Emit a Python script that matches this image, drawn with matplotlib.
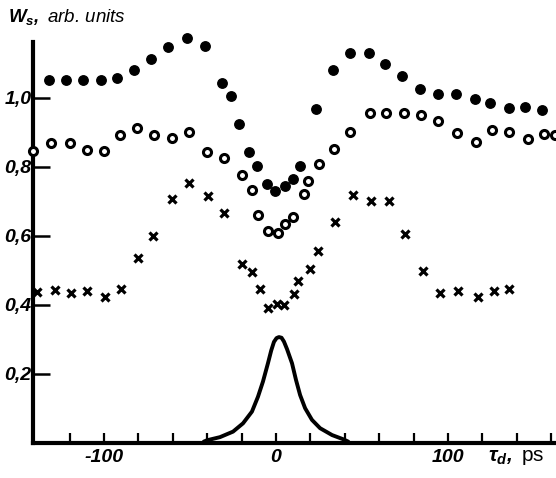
import matplotlib
matplotlib.use("Agg")
import matplotlib.pyplot as plt
import numpy as np

plt.rcParams['mathtext.fontset'] = 'custom'
plt.rcParams['mathtext.bf'] = 'Liberation Sans:bold:italic'
plt.rcParams['mathtext.rm'] = 'Liberation Sans'
plt.rcParams['mathtext.it'] = 'Liberation Sans:italic'

# filled circles
filled_x = [-132, -122, -112, -102, -92.4, -82.6, -72.7, -62.8, -51.7, -41.3, -31.4,
            -26.2, -21.5, -15.7, -11.0, -5.2, -0.6, 5.2, 9.9, 14.0, 23.3, 33.1, 43.0,
            54.1, 63.4, 73.3, 83.7, 94.2, 104.7, 115.7, 124.4, 135.5, 144.8, 154.7]
filled_y = [1.052, 1.052, 1.052, 1.052, 1.058, 1.081, 1.113, 1.148, 1.174, 1.151, 1.043,
            1.006, 0.925, 0.843, 0.803, 0.751, 0.730, 0.745, 0.765, 0.803, 0.968, 1.081, 1.130,
            1.130, 1.099, 1.064, 1.026, 1.012, 1.012, 0.997, 0.986, 0.971, 0.974, 0.965]

# open circles
open_x = [-141.3, -130.8, -119.8, -109.9, -100.0, -90.7, -80.8, -70.9, -60.5, -50.6,
          -40.1, -30.2, -19.8, -14.0, -10.5, -4.7, 1.2, 5.2, 9.9, 16.3, 18.6, 25.0,
          33.7, 43.0, 54.7, 64.0, 74.4, 84.3, 94.2, 105.2, 116.3, 125.6, 135.5,
          146.5, 155.8, 162.0]
open_y = [0.846, 0.870, 0.870, 0.849, 0.846, 0.893, 0.913, 0.893, 0.884, 0.901,
          0.843, 0.826, 0.777, 0.733, 0.661, 0.614, 0.609, 0.635, 0.655, 0.722, 0.759, 0.809,
          0.852, 0.901, 0.957, 0.957, 0.957, 0.951, 0.933, 0.899, 0.872, 0.907, 0.901,
          0.881, 0.896, 0.893]

# crosses
cross_x = [-139.0, -128.5, -119.2, -109.9, -99.4, -90.1, -80.2, -71.5, -60.5, -50.6,
           -39.5, -30.2, -19.8, -14.0, -9.3, -4.7, 0.6, 4.7, 10.5, 12.8, 19.8, 24.4,
           34.3, 44.8, 55.2, 65.7, 75.0, 85.5, 95.3, 105.8, 117.4, 126.7, 135.5]
cross_y = [0.438, 0.443, 0.435, 0.441, 0.423, 0.446, 0.536, 0.600, 0.707, 0.754,
           0.716, 0.667, 0.519, 0.496, 0.446, 0.391, 0.403, 0.400, 0.432, 0.470, 0.504, 0.557,
           0.641, 0.719, 0.701, 0.701, 0.606, 0.499, 0.435, 0.441, 0.423, 0.441, 0.446]

# pump pulse profile
pulse_x = [-42.0, -40.1, -32.6, -25.0, -19.2, -14.0, -10.5, -7.6, -4.7, -2.8, -1.2, 0.3,
           1.7, 3.2, 4.6, 6.4, 9.3, 11.6, 14.0, 16.9, 20.9, 25.6, 32.6, 39.0, 42.0]
pulse_y = [0.004, 0.008, 0.017, 0.033, 0.057, 0.091, 0.134, 0.178, 0.231, 0.268, 0.293, 0.304,
           0.307, 0.305, 0.294, 0.272, 0.231, 0.183, 0.139, 0.101, 0.067, 0.043, 0.023, 0.011, 0.004]

yticks = [0.2, 0.4, 0.6, 0.8, 1.0]
ytick_labels = ['0,2', '0,4', '0,6', '0,8', '1,0']
xticks = [-100, 0, 100]
xtick_labels = ['-100', '0', '100']

tick_font = dict(family='Liberation Sans', weight='bold', style='italic', size=14)

fig = plt.figure(figsize=(5.56, 4.78), dpi=100)
ax = fig.add_axes([0.0594, 0.0732, 0.9406, 0.839])

ax.plot(pulse_x, pulse_y, color='k', lw=2.8, solid_capstyle='round',
        solid_joinstyle='round', zorder=2)
ax.plot(filled_x, filled_y, 'o', color='k', ms=6.8, clip_on=False, zorder=3)
ax.plot(open_x, open_y, 'o', mfc='white', mec='k', ms=5.8, mew=2.2, clip_on=False, zorder=3)
ax.plot(cross_x, cross_y, 'x', color='k', ms=5.2, mew=2.3, clip_on=False, zorder=3)

ax.set_xlim(-141.3, 162.8)
ax.set_ylim(0, 1.162)

for s in ['top', 'right']:
    ax.spines[s].set_visible(False)
ax.spines['left'].set_linewidth(3)
ax.spines['bottom'].set_linewidth(3)

ax.set_xticks(xticks)
ax.set_xticklabels(xtick_labels, fontdict=tick_font)
ax.set_xticks(np.arange(-120, 161, 20), minor=True)
ax.set_yticks(yticks)
ax.set_yticklabels(ytick_labels, fontdict=tick_font)
ax.tick_params(axis='x', which='both', direction='in', length=7, width=1.6, pad=4)
ax.tick_params(axis='y', which='major', direction='in', length=12, width=1.8, pad=1)

fig.text(0.014, 0.955, r'$\mathbf{W_s,}$ arb. units', fontsize=13.5,
         family='Liberation Sans', style='italic', ha='left', va='baseline')
fig.text(0.878, 0.035, r'$\mathbf{\tau_d,}$ ps', fontsize=15,
         family='Liberation Sans', ha='left', va='baseline')

fig.savefig('out.png', dpi=100)
